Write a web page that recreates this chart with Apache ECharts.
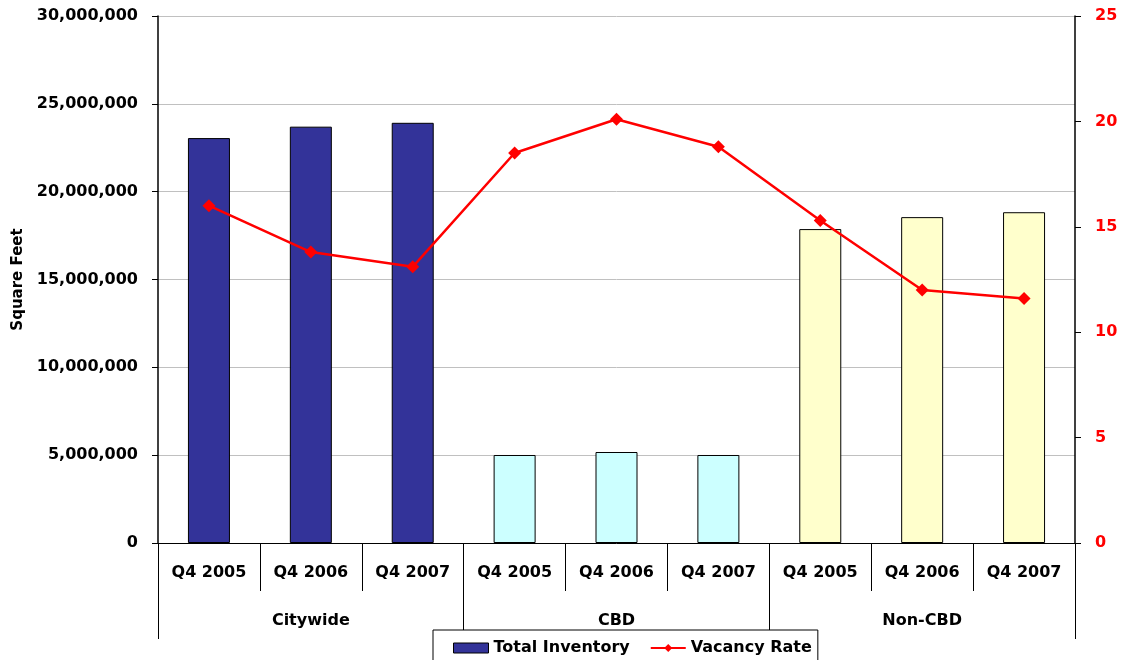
<!DOCTYPE html>
<html>
<head>
<meta charset="utf-8">
<script src="https://cdn.jsdelivr.net/npm/echarts@6/dist/echarts.min.js"></script>
<style>
html,body{margin:0;padding:0;background:#fff;}
#chart{width:1123px;height:660px;}
</style>
</head>
<body>
<div id="chart"></div>
<script>
var quarters = ['Q4 2005','Q4 2006','Q4 2007','Q4 2005','Q4 2006','Q4 2007','Q4 2005','Q4 2006','Q4 2007'];
var groups = ['Citywide','CBD','Non-CBD'];
var groupColors = ['#333399','#CCFFFF','#FFFFCC'];
var inventory = [23050000, 23700000, 23920000, 5010000, 5180000, 5010000, 17870000, 18550000, 18830000];
var vacancy = [16.0, 13.8, 13.1, 18.5, 20.1, 18.8, 15.3, 12.0, 11.6];
var leftTicks = [0, 30000000, 5000000];
var rightTicks = [0, 25, 5];

var FONT = '"DejaVu Sans", Verdana, sans-serif';
var chart = echarts.init(document.getElementById('chart'));

var barData = inventory.map(function(v, i){
  return {value: v, itemStyle: {color: groupColors[Math.floor(i/3)]}};
});

chart.setOption({
  animation: false,
  backgroundColor: '#fff',
  grid: {left: 158, right: 48, top: 16, bottom: 117, outerBoundsMode: 'none', containLabel: false},
  legend: {
    top: 630, left: 433,
    padding: [10, 6, 10, 20],
    itemGap: 20,
    borderColor: '#000', borderWidth: 1,
    backgroundColor: '#fff',
    textStyle: {fontFamily: FONT, fontWeight: 'bold', fontSize: 16, color: '#000'},
    data: [
      {name: 'Total Inventory', icon: 'rect', itemStyle: {color: '#333399', borderColor: '#000', borderWidth: 1}},
      {name: 'Vacancy Rate'}
    ],
    itemWidth: 35, itemHeight: 10
  },
  xAxis: [{
    type: 'category',
    data: quarters,
    position: 'bottom',
    axisLine: {onZero: false, lineStyle: {color: '#000', width: 1}},
    axisTick: {show: true, length: 48, lineStyle: {color: '#000'}},
    axisLabel: {margin: 22, fontFamily: FONT, fontWeight: 'bold', fontSize: 16, color: '#000', interval: 0},
    splitLine: {show: false}
  }, {
    type: 'category',
    data: groups,
    position: 'bottom',
    offset: 48,
    axisLine: {show: true, onZero: false, lineStyle: {color: 'rgba(0,0,0,0)', width: 1}},
    axisTick: {show: true, length: 48, interval: 0, lineStyle: {color: '#000', width: 1}},
    axisLabel: {margin: 22, fontFamily: FONT, fontWeight: 'bold', fontSize: 16, color: '#000', interval: 0},
    splitLine: {show: false}
  }],
  yAxis: [{
    type: 'value',
    min: leftTicks[0], max: leftTicks[1], interval: leftTicks[2],
    name: 'Square Feet',
    nameLocation: 'middle',
    nameRotate: 90,
    nameGap: 132,
    nameTextStyle: {fontFamily: FONT, fontWeight: 'bold', fontSize: 15, color: '#000'},
    axisLine: {show: true, lineStyle: {color: '#000', width: 1.5}},
    axisTick: {show: true, length: 6, lineStyle: {color: '#000'}},
    axisLabel: {
      margin: 20, fontFamily: FONT, fontWeight: 'bold', fontSize: 16, color: '#000',
      formatter: function(v){ return v.toString().replace(/\B(?=(\d{3})+(?!\d))/g, ','); }
    },
    splitLine: {show: true, lineStyle: {color: '#c0c0c0', width: 1}}
  }, {
    type: 'value',
    min: rightTicks[0], max: rightTicks[1], interval: rightTicks[2],
    position: 'right',
    axisLine: {show: true, lineStyle: {color: '#000', width: 1.5}},
    axisTick: {show: true, length: 6, lineStyle: {color: '#000'}},
    axisLabel: {margin: 20, fontFamily: FONT, fontWeight: 'bold', fontSize: 16, color: '#FF0000'},
    splitLine: {show: false}
  }],
  series: [{
    name: 'Total Inventory',
    type: 'bar',
    xAxisIndex: 0, yAxisIndex: 0,
    barWidth: 42,
    itemStyle: {color: '#333399', borderColor: '#000', borderWidth: 1},
    data: barData
  }, {
    name: 'Vacancy Rate',
    type: 'line',
    xAxisIndex: 0, yAxisIndex: 1,
    symbol: 'diamond',
    symbolSize: 13,
    lineStyle: {color: '#FF0000', width: 2.5},
    itemStyle: {color: '#FF0000'},
    data: vacancy
  }]
});
</script>
</body>
</html>
